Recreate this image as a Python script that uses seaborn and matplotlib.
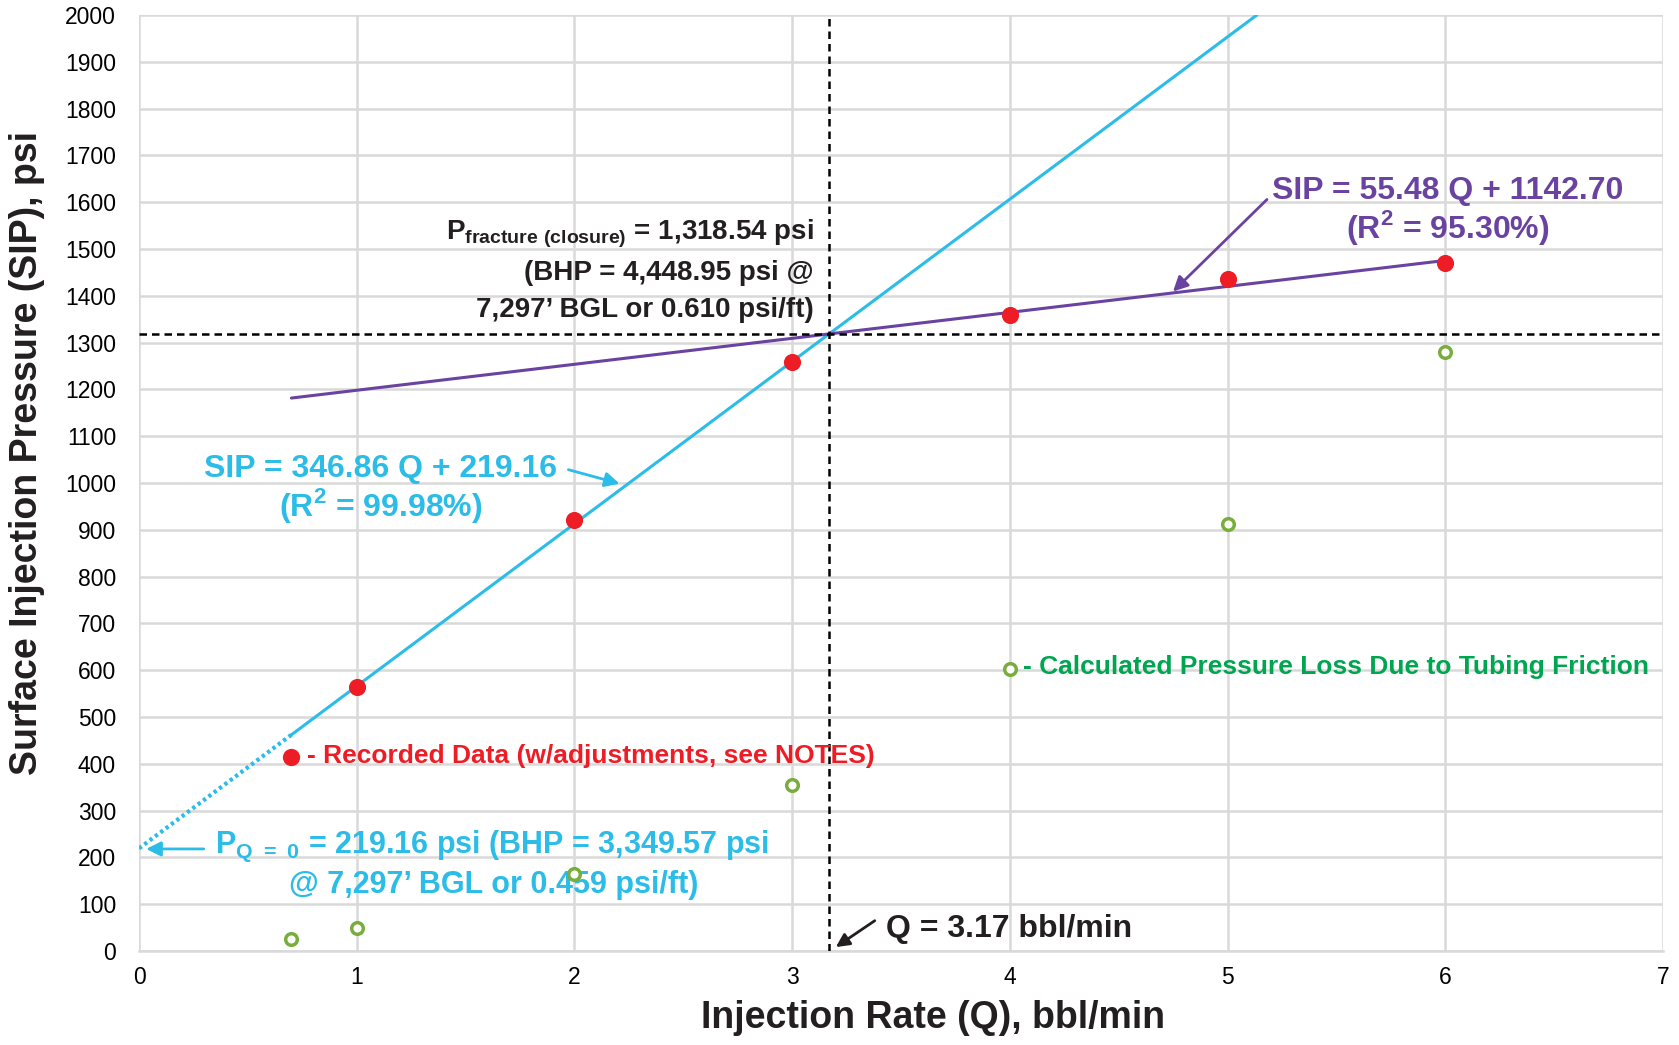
import matplotlib
matplotlib.use("Agg")
import matplotlib.pyplot as plt
import seaborn as sns
import numpy as np
import pandas as pd

# Data
rec_q = [1, 2, 3, 4, 5, 6]
rec_sip = [565, 920, 1258, 1358, 1435, 1470]
fric_q = [0.7, 1, 2, 3, 5, 6]
fric_sip = [25, 48, 165, 355, 912, 1280]
fit1_slope, fit1_int = 346.86, 219.16
fit2_slope, fit2_int = 55.48, 1142.70
p_closure = 1318.54
q_closure = 3.17
x_ticks = [0, 1, 2, 3, 4, 5, 6, 7]
y_ticks = list(range(0, 2001, 100))

sns.set_style("whitegrid")
plt.rcParams['font.family'] = ['Liberation Sans', 'DejaVu Sans']

fig = plt.figure(figsize=(16.79, 10.45), dpi=100)
ax = fig.add_axes([0.0828, 0.090, 0.9077, 0.8956])

BLUE = "#2BBCE8"
PURPLE = "#6A42A0"
RED = "#EE1C25"
GREEN_T = "#00A550"
GREEN_M = "#78AE3C"
DARK = "#231F20"

# fit lines
q1 = np.linspace(0.7, (2000 - fit1_int) / fit1_slope, 50)
sns.lineplot(x=q1, y=fit1_slope * q1 + fit1_int, ax=ax, color=BLUE, lw=2.2)
q1d = np.linspace(0.0, 0.7, 10)
ax.plot(q1d, fit1_slope * q1d + fit1_int, color=BLUE, lw=3, ls=(0, (0.8, 0.8)))
q2 = np.linspace(0.7, 6, 50)
sns.lineplot(x=q2, y=fit2_slope * q2 + fit2_int, ax=ax, color=PURPLE, lw=2.2)

# dashed closure lines
ax.axhline(p_closure, color="black", ls=(0, (3, 2)), lw=1.8, zorder=3)
ax.axvline(q_closure, color="black", ls=(0, (3, 2)), lw=1.8, zorder=3)

# points
sns.scatterplot(x=rec_q, y=rec_sip, ax=ax, color=RED, s=130, edgecolor=RED, zorder=5)
sns.scatterplot(x=fric_q, y=fric_sip, ax=ax, facecolor="white", edgecolor=GREEN_M,
                linewidth=2.5, s=70, zorder=5)

# legend-like labels
ax.scatter([0.7], [415], color=RED, s=130, zorder=5)
ax.text(0.77, 416, "- Recorded Data (w/adjustments, see NOTES)", color=RED,
        fontsize=19, fontweight="bold", va="center", ha="left")
ax.scatter([4.0], [603], facecolor="white", edgecolor=GREEN_M, linewidth=2.5, s=70, zorder=5)
ax.text(4.06, 606, "- Calculated Pressure Loss Due to Tubing Friction", color=GREEN_T,
        fontsize=19, fontweight="bold", va="center", ha="left")

# closure annotation
ax.text(3.1, 1533, r"P$_{\mathregular{fracture\ (closure)}}$ = 1,318.54 psi", ha="right", va="center",
        fontsize=20, fontweight="bold", color=DARK)
ax.text(3.1, 1448, "(BHP = 4,448.95 psi @", ha="right", va="center",
        fontsize=20, fontweight="bold", color=DARK)
ax.text(3.1, 1370, "7,297\u2019 BGL or 0.610 psi/ft)", ha="right", va="center",
        fontsize=20, fontweight="bold", color=DARK)

# purple fit annotation
ax.text(6.01, 1625, "SIP = 55.48 Q + 1142.70", ha="center", va="center",
        fontsize=23, fontweight="bold", color=PURPLE)
ax.text(6.01, 1547, "(R$^{\\mathregular{2}}$ = 95.30%)", ha="center", va="center",
        fontsize=23, fontweight="bold", color=PURPLE)
ax.annotate("", xy=(4.74, 1405), xytext=(5.19, 1610),
            arrowprops=dict(arrowstyle="-|>", color=PURPLE, lw=2, mutation_scale=22))

# blue fit annotation
ax.text(1.11, 1030, "SIP = 346.86 Q + 219.16", ha="center", va="center",
        fontsize=23, fontweight="bold", color=BLUE)
ax.text(1.11, 952, "(R$^{\\mathregular{2}}$ = 99.98%)", ha="center", va="center",
        fontsize=23, fontweight="bold", color=BLUE)
ax.annotate("", xy=(2.22, 997), xytext=(1.96, 1030),
            arrowprops=dict(arrowstyle="-|>", color=BLUE, lw=2, mutation_scale=22))

# intercept annotation
ax.text(0.35, 224, r"P$_{\mathregular{Q\ =\ 0}}$ = 219.16 psi (BHP = 3,349.57 psi", ha="left", va="center",
        fontsize=22, fontweight="bold", color=BLUE)
ax.text(1.63, 142, "@ 7,297\u2019 BGL or 0.459 psi/ft)", ha="center", va="center",
        fontsize=22, fontweight="bold", color=BLUE)
ax.annotate("", xy=(0.02, 218), xytext=(0.31, 218),
            arrowprops=dict(arrowstyle="-|>", color=BLUE, lw=2, mutation_scale=22))

# Q closure annotation
ax.text(3.43, 46, "Q = 3.17 bbl/min", ha="left", va="center",
        fontsize=23, fontweight="bold", color=DARK)
ax.annotate("", xy=(3.19, 5), xytext=(3.39, 68),
            arrowprops=dict(arrowstyle="-|>", color=DARK, lw=2, mutation_scale=20))

ax.set_xlim(0, 7)
ax.set_ylim(0, 2000)
ax.set_xticks(x_ticks)
ax.set_yticks(y_ticks)
ax.tick_params(axis="both", labelsize=16.5)
ax.tick_params(axis="y", pad=13)
ax.tick_params(axis="x", pad=7)
for lab in ax.get_xticklabels() + ax.get_yticklabels():
    lab.set_color("black")
ax.grid(True, color="#D9D9D9", lw=1.8)
for s in ax.spines.values():
    s.set_visible(False)
ax.spines["bottom"].set_visible(True)
ax.spines["bottom"].set_color("#D9D9D9")
ax.spines["bottom"].set_linewidth(1.8)
ax.set_xlabel("Injection Rate (Q), bbl/min", fontsize=27, fontweight="bold", color=DARK, labelpad=8)
ax.set_ylabel("Surface Injection Pressure (SIP), psi", fontsize=27, fontweight="bold", color=DARK)
ax.xaxis.label.set_x(0.521)
ax.yaxis.set_label_coords(-0.062, 0.532)

fig.savefig("out.png", dpi=100)
